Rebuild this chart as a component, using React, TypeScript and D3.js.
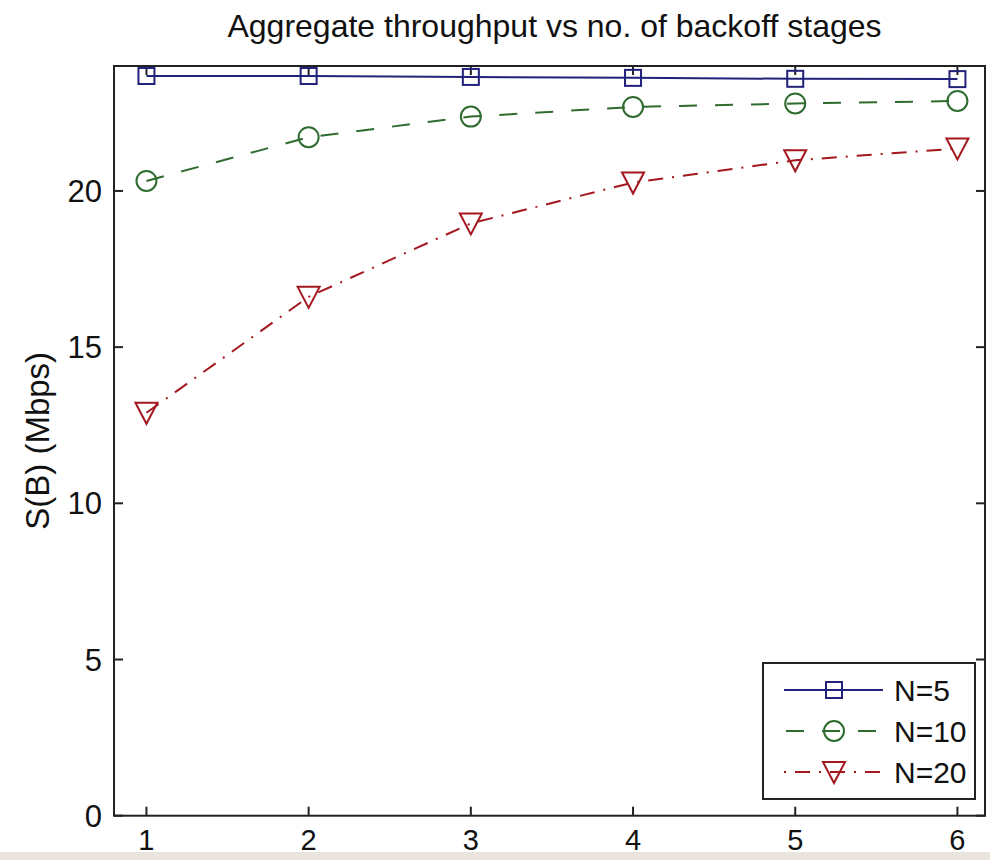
import React, { useEffect, useRef } from 'react';
import * as d3 from 'd3';

// backoff stages on the x axis
const stages = [1, 2, 3, 4, 5, 6];
// aggregate throughput S(B) in Mbps
const n5 = [23.68, 23.68, 23.65, 23.62, 23.59, 23.58];
const n10 = [20.32, 21.72, 22.38, 22.69, 22.8, 22.88];
const n20 = [12.9, 16.61, 18.96, 20.27, 20.98, 21.36];

const seriesNames = ['N=5', 'N=10', 'N=20'];
const yTicks = [0, 5, 10, 15, 20];
const xTicks = [1, 2, 3, 4, 5, 6];

const FONT = '"Liberation Sans", Arial, Helvetica, sans-serif';

const App = () => {
  const ref = useRef<SVGSVGElement>(null);

  const graph = () => {
    const svg = d3.select(ref.current);
    svg.selectAll('*').remove();

    const left = 114, right = 985, top = 66, bottom = 815.7;

    const x = d3.scaleLinear().domain([0.8, 6.17]).range([left, right]);
    const y = d3.scaleLinear().domain([0, 24]).range([bottom, top]);

    const styles = [
      { name: seriesNames[0], values: n5, color: '#22227a', dash: null, marker: 'square' },
      { name: seriesNames[1], values: n10, color: '#2e6b2e', dash: '18,18', marker: 'circle' },
      { name: seriesNames[2], values: n20, color: '#a3181f', dash: '15,9,2,9', marker: 'tri' },
    ];

    svg.append('rect').attr('width', 990).attr('height', 860).attr('fill', '#ffffff');

    // title
    svg.append('text')
      .attr('x', (left + right) / 2 + 5)
      .attr('y', 37)
      .attr('text-anchor', 'middle')
      .style('font-family', FONT)
      .style('font-size', '32px')
      .attr('fill', '#111')
      .text('Aggregate throughput vs no. of backoff stages');

    // y label
    svg.append('text')
      .attr('transform', `translate(49, ${(top + bottom) / 2}) rotate(-90)`)
      .attr('text-anchor', 'middle')
      .style('font-family', FONT)
      .style('font-size', '33px')
      .attr('fill', '#111')
      .text('S(B) (Mbps)');

    const tickLen = 9;
    const axis = svg.append('g').attr('stroke', '#222').attr('stroke-width', 2);

    yTicks.forEach((t) => {
      axis.append('line').attr('x1', left).attr('x2', left + tickLen).attr('y1', y(t)).attr('y2', y(t));
      axis.append('line').attr('x1', right).attr('x2', right - tickLen).attr('y1', y(t)).attr('y2', y(t));
    });
    xTicks.forEach((t) => {
      axis.append('line').attr('x1', x(t)).attr('x2', x(t)).attr('y1', bottom).attr('y2', bottom - tickLen);
      axis.append('line').attr('x1', x(t)).attr('x2', x(t)).attr('y1', top).attr('y2', top + tickLen);
    });

    svg.append('g').selectAll('text').data(yTicks).enter().append('text')
      .attr('x', 102)
      .attr('y', (d) => y(d) + 11)
      .attr('text-anchor', 'end')
      .style('font-family', FONT)
      .style('font-size', '31px')
      .attr('fill', '#111')
      .text((d) => d);

    svg.append('g').selectAll('text').data(xTicks).enter().append('text')
      .attr('x', (d) => x(d))
      .attr('y', 850)
      .attr('text-anchor', 'middle')
      .style('font-family', FONT)
      .style('font-size', '29px')
      .attr('fill', '#111')
      .text((d) => d);

    const drawMarker = (g, kind, cx, cy, color) => {
      if (kind === 'square') {
        g.append('rect').attr('x', cx - 8).attr('y', cy - 8).attr('width', 16).attr('height', 16)
          .attr('fill', 'none').attr('stroke', color).attr('stroke-width', 2);
      } else if (kind === 'circle') {
        g.append('circle').attr('cx', cx).attr('cy', cy).attr('r', 10)
          .attr('fill', 'none').attr('stroke', color).attr('stroke-width', 2);
      } else {
        g.append('path').attr('d', `M${cx - 11},${cy - 10}L${cx + 11},${cy - 10}L${cx},${cy + 11}Z`)
          .attr('fill', 'none').attr('stroke', color).attr('stroke-width', 2);
      }
    };

    const line = d3.line<number>().x((d, i) => x(stages[i])).y((d) => y(d));

    styles.forEach((s) => {
      const g = svg.append('g');
      g.append('path')
        .attr('d', line(s.values))
        .attr('fill', 'none')
        .attr('stroke', s.color)
        .attr('stroke-width', 2)
        .attr('stroke-dasharray', s.dash);
      s.values.forEach((v, i) => drawMarker(g, s.marker, x(stages[i]), y(v), s.color));
    });

    // box
    svg.append('rect')
      .attr('x', left).attr('y', top).attr('width', right - left).attr('height', bottom - top)
      .attr('fill', 'none').attr('stroke', '#222').attr('stroke-width', 2);

    // legend
    const lg = svg.append('g');
    lg.append('rect').attr('x', 763).attr('y', 663).attr('width', 212).attr('height', 136)
      .attr('fill', '#fff').attr('stroke', '#222').attr('stroke-width', 2);
    styles.forEach((s, i) => {
      const ry = 690 + i * 41;
      lg.append('line').attr('x1', 784).attr('x2', 883).attr('y1', ry).attr('y2', ry)
        .attr('stroke', s.color).attr('stroke-width', 2)
        .attr('stroke-dasharray', s.dash ? (i === 1 ? '18,18' : '2,9,15,9') : null)
        .attr('stroke-dashoffset', i === 1 ? -2 : 0);
      drawMarker(lg, s.marker, 834, ry, s.color);
      lg.append('text').attr('x', 894).attr('y', ry + 11)
        .style('font-family', FONT).style('font-size', '30px').attr('fill', '#111')
        .text(s.name);
    });

    // grey strip at the bottom of the scan
    svg.append('rect').attr('x', 0).attr('y', 852).attr('width', 990).attr('height', 8).attr('fill', '#e9e5de');
  };

  useEffect(() => graph());

  return (
    <svg ref={ref} width="990" height="860" style={{ position: 'absolute', left: 0, top: 0 }}></svg>
  );
};

export default App;
